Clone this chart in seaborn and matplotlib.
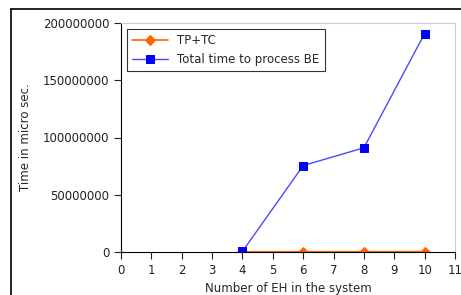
import matplotlib
matplotlib.use('Agg')
import matplotlib.pyplot as plt
from matplotlib.lines import Line2D
import seaborn as sns
import pandas as pd

eh = [4, 6, 8, 10]
tp_tc = [150000, 200000, 250000, 300000]
total_be = [500000, 75500000, 91000000, 190800000]

sns.set_style('ticks')
plt.rcParams['font.family'] = ['DejaVu Sans']
plt.rcParams['font.size'] = 8.5

fig = plt.figure(figsize=(4.61, 2.95), dpi=100)
ax = fig.add_axes([121/461, 1-252/295, 334/461, 229/295])

df1 = pd.DataFrame({'x': eh, 'y': tp_tc})
df2 = pd.DataFrame({'x': eh, 'y': total_be})
sns.lineplot(data=df1, x='x', y='y', ax=ax, color='#ff6600', marker='D',
             markersize=5, markeredgecolor='#ff6600', linewidth=1.2, label='TP+TC')
sns.lineplot(data=df2, x='x', y='y', ax=ax, color='#4a4aff', marker='s',
             markersize=6, markerfacecolor='#0000ff', markeredgecolor='#0000ff',
             linewidth=1, label='Total time to process BE')

ax.set_xlim(0, 11)
ax.set_ylim(0, 200000000)
ax.set_xticks(range(0, 12))
ax.set_yticks([0, 50000000, 100000000, 150000000, 200000000])
ax.ticklabel_format(style='plain', axis='y')
ax.set_xlabel('Number of EH in the system', fontsize=8.5)
ax.set_ylabel('Time in micro sec.', fontsize=8.5, labelpad=8)
ax.tick_params(direction='out', length=5, width=0.8, colors='#222222')
for s in ['top', 'right']:
    ax.spines[s].set_color('#cccccc')
for s in ['left', 'bottom']:
    ax.spines[s].set_color('black')

leg = ax.legend(loc='upper left', fancybox=False, edgecolor='#333333',
                framealpha=1, fontsize=8.5, borderpad=0.45, handlelength=3)
leg.get_frame().set_linewidth(0.8)

# outer frame of the screenshot
fig.add_artist(Line2D([11/461, 1], [1-9/295, 1-9/295], color='black', lw=1.2))
fig.add_artist(Line2D([11/461, 11/461], [0, 1-9/295], color='black', lw=1.2))

fig.savefig('out.png', dpi=100)
